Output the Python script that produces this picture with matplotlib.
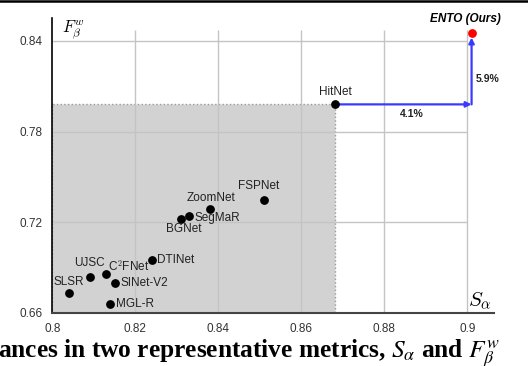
import matplotlib
matplotlib.use("Agg")
import matplotlib.pyplot as plt
from matplotlib.patches import Rectangle
from matplotlib.lines import Line2D

plt.rcParams['font.family'] = ['Liberation Sans', 'DejaVu Sans']
plt.rcParams['mathtext.fontset'] = 'cm'

# Methods: S_alpha (x), F_beta^w (y)
names = ["SLSR", "UJSC", "C$^2$FNet", "SINet-V2", "MGL-R", "DTINet",
         "BGNet", "SegMaR", "ZoomNet", "FSPNet", "HitNet"]
s_alpha = [0.804, 0.809, 0.813, 0.815, 0.814, 0.824, 0.831, 0.833, 0.838, 0.851, 0.868]
f_beta = [0.673, 0.684, 0.686, 0.680, 0.666, 0.695, 0.722, 0.724, 0.729, 0.735, 0.798]

ours_name = "ENTO (Ours)"
ours_s = 0.901
ours_f = 0.845

gain_s = "4.1%"
gain_f = "5.9%"

xticks = [0.8, 0.82, 0.84, 0.86, 0.88, 0.9]
xtick_labels = ["0.8", "0.82", "0.84", "0.86", "0.88", "0.9"]
yticks = [0.66, 0.72, 0.78, 0.84]
ytick_labels = ["0.66", "0.72", "0.78", "0.84"]

# label placement (offset in pixels, ha, va)
label_pos = {
    "SLSR": ((0, 5), "center", "bottom"),
    "UJSC": ((0, 8), "center", "bottom"),
    "C$^2$FNet": ((2, 0), "left", "bottom"),
    "SINet-V2": ((6, 0), "left", "center"),
    "MGL-R": ((6, 0), "left", "center"),
    "DTINet": ((5, 0), "left", "center"),
    "BGNet": ((3, -4), "center", "top"),
    "SegMaR": ((5, -2), "left", "center"),
    "ZoomNet": ((1, 5), "center", "bottom"),
    "FSPNet": ((-5, 8), "center", "bottom"),
    "HitNet": ((1, 6), "center", "bottom"),
}

fig = plt.figure(figsize=(5.28, 3.66), dpi=100)
ax = fig.add_axes([0.099, 0.145, 0.8366, 0.806])
ax.set_xlim(0.8, 0.9064)
ax.set_ylim(0.66, 0.8552)

# gray region dominated by HitNet
hit_s = s_alpha[-1]
hit_f = f_beta[-1]
ax.add_patch(Rectangle((0.8, 0.66), hit_s - 0.8, hit_f - 0.66,
                       facecolor="#d2d2d2", edgecolor="#9a9a9a",
                       linestyle=":", linewidth=1, zorder=1))

# grid drawn by hand so it stops at 0.9 / 0.8475
ax.vlines(xticks[1:], 0.66, 0.8475, color="#c4c4c4", linewidth=1, zorder=2)
ax.hlines(yticks[1:], 0.8, 0.9, color="#c4c4c4", linewidth=1, zorder=2)

ax.set_xticks(xticks)
ax.set_xticklabels(xtick_labels)
ax.set_yticks(yticks)
ax.set_yticklabels(ytick_labels)
ax.tick_params(length=0, labelsize=8.5, labelcolor="#333333")
ax.tick_params(axis="x", pad=7)
ax.tick_params(axis="y", pad=7)

ax.spines["top"].set_visible(False)
ax.spines["right"].set_visible(False)
ax.spines["left"].set_linewidth(1.2)
ax.spines["bottom"].set_linewidth(1.5)
ax.spines["bottom"].set_color("#444444")

ax.scatter(s_alpha, f_beta, s=28, color="black", zorder=5)
ax.scatter([ours_s], [ours_f], s=28, color="red", zorder=6)

for i in range(len(names)):
    off, ha, va = label_pos[names[i]]
    ax.annotate(names[i], (s_alpha[i], f_beta[i]), xytext=off,
                textcoords="offset pixels", ha=ha, va=va,
                fontsize=8.5, color="#222222", zorder=7)

ax.annotate(ours_name, (ours_s, ours_f), xytext=(-6, 8),
            textcoords="offset pixels", ha="center", va="bottom",
            fontsize=8.5, fontweight="bold", fontstyle="italic", zorder=7)

# improvement arrows
blue = "#3a3aff"
ax.annotate("", xy=(ours_s, hit_f), xytext=(hit_s, hit_f),
            arrowprops=dict(arrowstyle="-|>", color=blue, lw=1.6,
                            mutation_scale=8, shrinkA=3, shrinkB=0), zorder=4)
ax.annotate("", xy=(ours_s, ours_f), xytext=(ours_s, hit_f),
            arrowprops=dict(arrowstyle="-|>", color=blue, lw=1.6,
                            mutation_scale=8, shrinkA=0, shrinkB=3), zorder=4)
ax.text(0.8867, hit_f - 0.003, gain_s, ha="center", va="top",
        fontsize=7.5, fontweight="bold", color="#222222")
ax.text(ours_s + 0.001, 0.815, gain_f, ha="left", va="center",
        fontsize=7.5, fontweight="bold", color="#222222")

# axis names inside the plot
ax.text(0.8023, 0.8473, r"$F_{\beta}^{w}$", ha="left", va="center", fontsize=12)
ax.text(0.9002, 0.6615, r"$S_{\alpha}$", ha="left", va="bottom", fontsize=15)

# cropped caption and top rule
fig.add_artist(Line2D([0, 1], [0.996, 0.996], color="black", linewidth=1.8))
fig.text(-0.003, 0.022, r"ances in two representative metrics, $S_\alpha$ and $F_\beta^w$",
         fontsize=18.3, fontweight="bold", family=["Liberation Serif"],
         math_fontfamily="stix", ha="left", va="baseline")

fig.savefig("out.png", dpi=100)
